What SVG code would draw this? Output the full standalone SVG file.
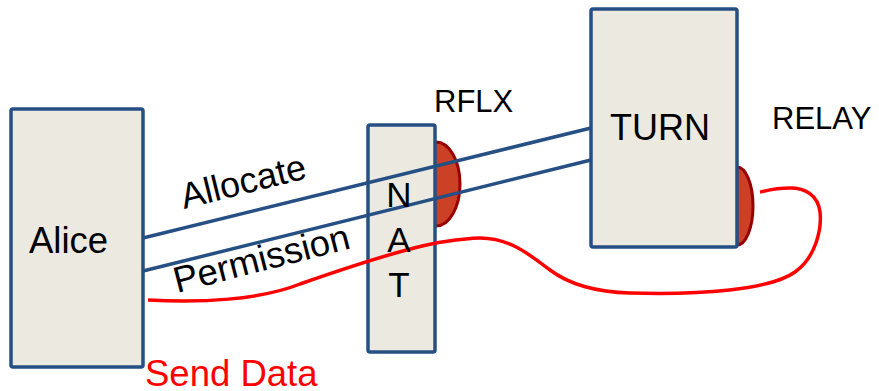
<svg xmlns="http://www.w3.org/2000/svg" width="879" height="391" viewBox="0 0 879 391">
<style>
.box{fill:#ECEAE0;stroke:#264F84;stroke-width:3.5}
.port{fill:#CC4125;stroke:#990000;stroke-width:3}
.t{font-family:"Liberation Sans",Arial,sans-serif;fill:#000}
.blue{fill:none;stroke:#264F84;stroke-width:3.5}
.red{fill:none;stroke:#FF0000;stroke-width:3.5}
</style>
<rect width="879" height="391" fill="#fff"/>
<g id="alice">
<rect class="box" x="11" y="109" width="132" height="258" rx="2"/>
<text class="t" x="29" y="253" font-size="36.5">Alice</text>
</g>
<g id="rflx">
<ellipse class="port" cx="436" cy="184" rx="24" ry="42"/>
<text class="t" x="434" y="112" font-size="31">RFLX</text>
</g>
<g id="nat">
<rect class="box" x="368" y="125" width="67" height="227" rx="2"/>
</g>
<g id="relay">
<ellipse class="port" cx="737" cy="206" rx="16" ry="39"/>
<text class="t" x="772" y="129" font-size="31">RELAY</text>
</g>
<g id="turn">
<rect class="box" x="591" y="9" width="146" height="238" rx="2"/>
<text class="t" x="610" y="140" font-size="36">TURN</text>
</g>
<g id="connectors">
<line class="blue" x1="143" y1="238" x2="591" y2="128"/>
<line class="blue" x1="143" y1="271" x2="591" y2="160"/>
<path class="red" d="M148,300 C200,303 260,300 300,284 C340,270 400,250 436,243 C455,240 467,238 480,238 C510,238 530,255 550,270 C570,285 595,292 630,293 C700,295 770,290 795,272 C815,258 822,230 820,212 C818,195 805,188 790,188 C775,188 765,191 760,192"/>
<text class="t" transform="translate(184,209) rotate(-14)" font-size="36">Allocate</text>
<text class="t" transform="translate(177,293) rotate(-14.4)" font-size="36.5">Permission</text>
<text class="t" x="145" y="386" font-size="36.5" fill="#FF0000" style="fill:#FF0000">Send Data</text>
</g>
<g id="nat-label">
<text class="t" x="399" y="207" font-size="35" text-anchor="middle">N</text>
<text class="t" x="399" y="252" font-size="35" text-anchor="middle">A</text>
<text class="t" x="399" y="297" font-size="35" text-anchor="middle">T</text>
</g>
</svg>
